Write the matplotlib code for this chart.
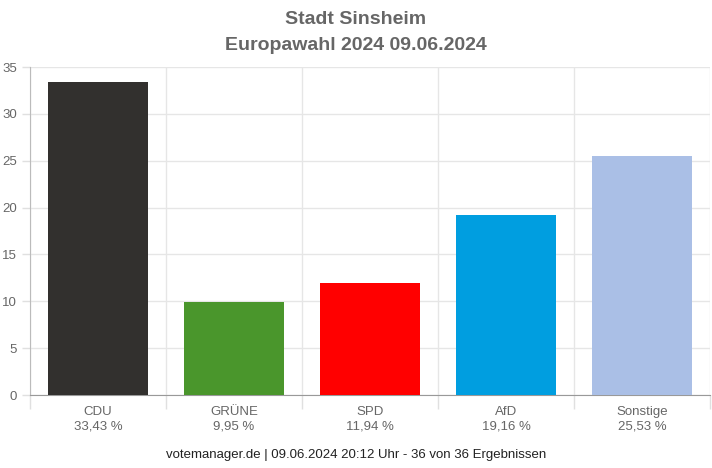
import numpy as np
import matplotlib.pyplot as plt
from matplotlib.ticker import FixedLocator

parties = ['CDU', 'GRÜNE', 'SPD', 'AfD', 'Sonstige']
shares = [33.43, 9.95, 11.94, 19.16, 25.53]
share_labels = ['33,43 %', '9,95 %', '11,94 %', '19,16 %', '25,53 %']
colors = ['#32302e', '#4a962c', '#ff0000', '#009ee0', '#aabfe6']

plt.rcParams['font.family'] = ['Liberation Sans Narrow', 'Liberation Sans', 'DejaVu Sans']

fig = plt.figure(figsize=(7.12, 4.68), dpi=100)
ax = fig.add_axes([30 / 712, 73 / 468, 680 / 712, 328 / 468])

x = np.arange(len(parties))
ax.bar(x, shares, width=0.73, color=colors, zorder=3)

ax.set_xlim(-0.5, len(parties) - 0.5)
ax.set_ylim(0, 35)
ax.set_yticks(np.arange(0, 36, 5))
ax.yaxis.grid(True, color='#e6e6e6', linewidth=1, zorder=0)
ax.tick_params(axis='y', colors='#e0e0e0', labelcolor='#666666', labelsize=9.5, length=6, width=1)

ax.set_xticks(x)
ax.set_xticklabels([f'{p}\n{s}' for p, s in zip(parties, share_labels)],
                   color='#666666', fontsize=9.5, linespacing=1.25)
ax.tick_params(axis='x', length=0, pad=8)
ax.xaxis.set_minor_locator(FixedLocator(np.arange(-0.5, len(parties), 1.0)))
ax.tick_params(axis='x', which='minor', length=10, color='#e0e0e0', width=1)
ax.xaxis.grid(True, which='minor', color='#e6e6e6', linewidth=1, zorder=0)

for side in ['top', 'right']:
    ax.spines[side].set_visible(False)
ax.spines['left'].set_color('#bbbbbb')
ax.spines['bottom'].set_color('#999999')

fig.text(0.5, 1 - 20 / 468, 'Stadt Sinsheim', ha='center', va='center',
         fontsize=14, fontweight='bold', color='#666666')
fig.text(0.5, 1 - 45 / 468, 'Europawahl 2024 09.06.2024', ha='center', va='center',
         fontsize=14, fontweight='bold', color='#666666')
fig.text(0.5, 1 - 455 / 468, 'votemanager.de | 09.06.2024 20:12 Uhr - 36 von 36 Ergebnissen',
         ha='center', va='center', fontsize=9.5, color='#222222')

fig.savefig('out.png', dpi=100)
